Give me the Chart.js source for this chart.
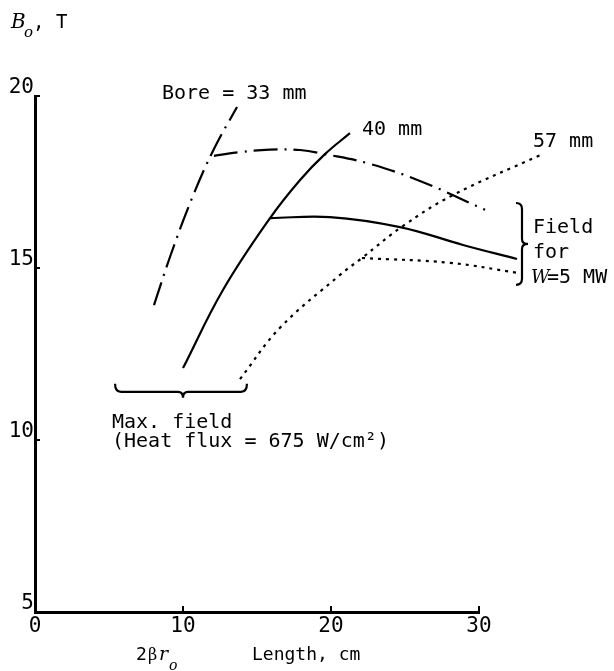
<!DOCTYPE html>
<html>
<head>
<meta charset="utf-8">
<script src="https://cdn.jsdelivr.net/npm/chart.js@4.4.1/dist/chart.umd.min.js"></script>
<style>
  body { margin: 0; background: #fff; }
  canvas { display: block; }
</style>
</head>
<body>
<canvas id="fieldChart" width="614" height="671"></canvas>
<script>
const xTicks = [0, 10, 20, 30];
const yTicks = [5, 10, 15, 20];
const boreLabels = ["Bore = 33 mm", "40 mm", "57 mm"];

// max field curves (heat flux = 675 W/cm2)
const max33X = [8.04, 9.12, 10.61, 12.09, 13.65];
const max33Y = [13.92, 15.32, 17.03, 18.46, 19.68];
const max40X = [10.0, 12.7, 15.88, 17.91, 19.59, 21.28];
const max40Y = [12.09, 14.36, 16.45, 17.56, 18.31, 18.92];
const max57X = [13.85, 16.55, 20.61, 22.09, 24.86, 28.24, 34.12];
const max57Y = [11.77, 13.26, 14.8, 15.29, 16.22, 17.12, 18.28];

// field for W = 5 MW
const w5_33X = [12.09, 13.85, 15.88, 17.91, 19.59, 22.43, 26.01, 30.41];
const w5_33Y = [18.26, 18.37, 18.44, 18.43, 18.31, 18.05, 17.53, 16.69];
const w5_40X = [15.88, 19.93, 24.66, 28.92, 32.57];
const w5_40Y = [16.45, 16.48, 16.19, 15.67, 15.26];
const w5_57X = [22.09, 28.04, 32.57];
const w5_57Y = [15.29, 15.15, 14.86];

const pts = (xs, ys) => xs.map((v, i) => ({ x: v, y: ys[i] }));

const dashDot = [24, 7, 2, 7];
const dotted = [3, 5];

function line(label, data, dash) {
  return {
    label: label,
    data: data,
    showLine: true,
    borderColor: "#000",
    borderWidth: 2.2,
    borderDash: dash,
    pointRadius: 0,
    tension: 0.4,
    clip: false,
  };
}

const mono = "'DejaVu Sans Mono', monospace";
const serif = "'DejaVu Serif', serif";

const annotate = {
  id: "annotate",
  afterDraw(chart) {
    const ctx = chart.ctx;
    const x = chart.scales.x;
    const y = chart.scales.y;
    ctx.save();
    ctx.fillStyle = "#000";
    ctx.strokeStyle = "#000";
    ctx.textBaseline = "alphabetic";
    ctx.textAlign = "left";

    // inward tick marks
    ctx.lineWidth = 2;
    yTicks.slice(1).forEach((v) => {
      const py = y.getPixelForValue(v);
      ctx.beginPath();
      ctx.moveTo(x.left, py);
      ctx.lineTo(x.left + 5, py);
      ctx.stroke();
    });
    xTicks.slice(1).forEach((v) => {
      const px = x.getPixelForValue(v);
      ctx.beginPath();
      ctx.moveTo(px, y.bottom);
      ctx.lineTo(px, y.bottom - 6);
      ctx.stroke();
    });

    // brace under the max-field curve ends
    const by = y.getPixelForValue(11.4);
    const bl = x.getPixelForValue(5.41);
    const bm = x.getPixelForValue(10.0);
    const br = x.getPixelForValue(14.32);
    ctx.lineWidth = 2.2;
    ctx.beginPath();
    ctx.moveTo(bl, by - 8);
    ctx.quadraticCurveTo(bl, by, bl + 6, by);
    ctx.lineTo(bm - 5, by);
    ctx.quadraticCurveTo(bm, by, bm, by + 6);
    ctx.quadraticCurveTo(bm, by, bm + 5, by);
    ctx.lineTo(br - 6, by);
    ctx.quadraticCurveTo(br, by, br, by - 8);
    ctx.stroke();

    // brace for the W = 5 MW field ends
    const rx = x.getPixelForValue(32.77);
    const rt = y.getPixelForValue(16.89);
    const rm = y.getPixelForValue(15.7);
    const rb = y.getPixelForValue(14.51);
    ctx.beginPath();
    ctx.moveTo(rx - 4, rt);
    ctx.quadraticCurveTo(rx + 2, rt, rx + 2, rt + 6);
    ctx.lineTo(rx + 2, rm - 5);
    ctx.quadraticCurveTo(rx + 2, rm, rx + 8, rm);
    ctx.quadraticCurveTo(rx + 2, rm, rx + 2, rm + 5);
    ctx.lineTo(rx + 2, rb - 6);
    ctx.quadraticCurveTo(rx + 2, rb, rx - 4, rb);
    ctx.stroke();

    // axis title (y)
    ctx.font = "italic 20px " + serif;
    ctx.fillText("B", 11, 28);
    ctx.font = "italic 15px " + serif;
    ctx.fillText("o", 24, 37);
    ctx.font = "19px " + mono;
    ctx.fillText(", T", 33, 28);

    // curve labels
    ctx.font = "20px " + mono;
    ctx.fillText(boreLabels[0], 162, 99);
    ctx.fillText(boreLabels[1], 362, 135);
    ctx.fillText(boreLabels[2], 533, 147);

    ctx.fillText("Field", 533, 233);
    ctx.fillText("for", 533, 258);
    ctx.font = "italic 18px " + serif;
    ctx.fillText("W", 531, 283);
    ctx.font = "20px " + mono;
    ctx.fillText("=5 MW", 547, 283);

    ctx.fillText("Max. field", 112, 428);
    ctx.fillText("(Heat flux = 675 W/cm\u00b2)", 112, 447);

    // axis title (x)
    ctx.font = "18px " + mono;
    ctx.fillText("Length, cm", 252, 660);
    ctx.fillText("2", 136, 660);
    ctx.font = "16px " + serif;
    ctx.fillText("\u03b2", 148, 660);
    ctx.font = "italic 19px " + serif;
    ctx.fillText("r", 159, 660);
    ctx.font = "italic 14px " + serif;
    ctx.fillText("o", 169, 670);
    ctx.restore();
  },
};

new Chart(document.getElementById("fieldChart"), {
  type: "scatter",
  data: {
    datasets: [
      line("33 mm max", pts(max33X, max33Y), dashDot),
      line("33 mm 5 MW", pts(w5_33X, w5_33Y), dashDot),
      line("40 mm max", pts(max40X, max40Y), []),
      line("40 mm 5 MW", pts(w5_40X, w5_40Y), []),
      line("57 mm max", pts(max57X, max57Y), dotted),
      line("57 mm 5 MW", pts(w5_57X, w5_57Y), dotted),
    ],
  },
  plugins: [annotate],
  options: {
    responsive: false,
    animation: false,
    devicePixelRatio: 1,
    layout: { padding: { left: 0, right: 135, top: 96, bottom: 0 } },
    plugins: {
      legend: { display: false },
      tooltip: { enabled: false },
    },
    scales: {
      x: {
        type: "linear",
        min: 0,
        max: 30,
        afterBuildTicks: (s) => {
          s.ticks = xTicks.map((v) => ({ value: v }));
        },
        afterFit: (s) => {
          s.height = 59;
        },
        grid: { display: false, drawTicks: false },
        border: { display: true, color: "#000", width: 3 },
        ticks: {
          color: "#000",
          padding: 2,
          font: { family: mono, size: 21 },
        },
      },
      y: {
        type: "linear",
        min: 5,
        max: 20,
        afterBuildTicks: (s) => {
          s.ticks = yTicks.map((v) => ({ value: v }));
        },
        afterFit: (s) => {
          s.width = 35;
        },
        grid: { display: false, drawTicks: false },
        border: { display: true, color: "#000", width: 3 },
        ticks: {
          color: "#000",
          padding: 1,
          labelOffset: -8,
          font: { family: mono, size: 21 },
        },
      },
    },
  },
});
</script>
</body>
</html>
